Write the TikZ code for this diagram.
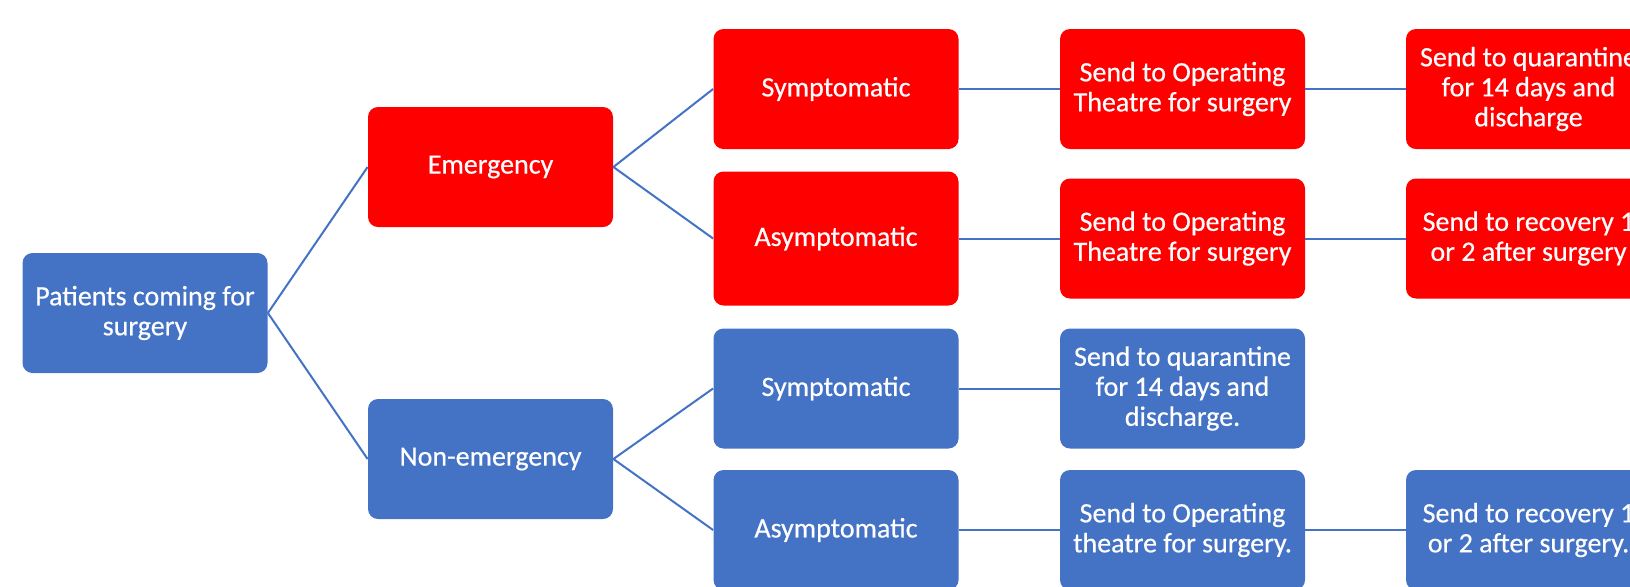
\documentclass[tikz,border=0pt]{standalone}
\usepackage{fontspec}
\setmainfont{Carlito}[FakeBold=0.5]
\usepackage{xcolor}
\usepackage{tikz}
\definecolor{boxred}{HTML}{FF0000}
\definecolor{boxblue}{HTML}{4472C4}

\begin{document}
\begin{tikzpicture}[x=0.5pt,y=-0.5pt,
      box/.style={
            rectangle, rounded corners=5pt,
            minimum width=122.5pt, minimum height=60pt,
            inner sep=2pt, align=center, text=white,
            font=\fontsize{14}{15}\selectfont
        },
      redbox/.style={box, fill=boxred},
      bluebox/.style={box, fill=boxblue},
      link/.style={draw=boxblue, line width=1pt}
      ]
    \useasboundingbox (0,0) rectangle (1630,586);
    \clip (0,0) rectangle (1630,586);

    \node[bluebox] (P) at (145,313) {Patients coming for\\surgery};

    \node[redbox]  (E) at (490.5,167) {Emergency};
    \node[bluebox] (N) at (490.5,459) {Non-emergency};

    \node[redbox]  (ES) at (836,89)    {Symptomatic};
    \node[redbox,minimum height=67pt] (EA) at (836,238.5) {Asymptomatic};
    \node[bluebox] (NS) at (836,388.5) {Symptomatic};
    \node[bluebox] (NA) at (836,530)   {Asymptomatic};

    \node[redbox]  (ESO) at (1182.5,89)    {Send to Operating\\Theatre for surgery};
    \node[redbox]  (EAO) at (1182.5,238.5) {Send to Operating\\Theatre for surgery};
    \node[bluebox] (NSQ) at (1182.5,388.5) {Send to quarantine\\for 14 days and\\discharge.};
    \node[bluebox] (NAO) at (1182.5,530)   {Send to Operating\\theatre for surgery.};

    \node[redbox]  (ESQ) at (1528.5,89)    {Send to quarantine\\for 14 days and\\discharge};
    \node[redbox]  (EAR) at (1528.5,238.5) {Send to recovery 1\\or 2 after surgery};
    \node[bluebox] (NAR) at (1528.5,530)   {Send to recovery 1\\or 2 after surgery.};

    \draw[link] (P.east) -- (E.west);
    \draw[link] (P.east) -- (N.west);

    \draw[link] (E.east) -- (ES.west);
    \draw[link] (E.east) -- (EA.west);
    \draw[link] (N.east) -- (NS.west);
    \draw[link] (N.east) -- (NA.west);

    \draw[link] (ES) -- (ESO);
    \draw[link] (EA) -- (EAO);
    \draw[link] (NS) -- (NSQ);
    \draw[link] (NA) -- (NAO);

    \draw[link] (ESO) -- (ESQ);
    \draw[link] (EAO) -- (EAR);
    \draw[link] (NAO) -- (NAR);
  \end{tikzpicture}
\end{document}
